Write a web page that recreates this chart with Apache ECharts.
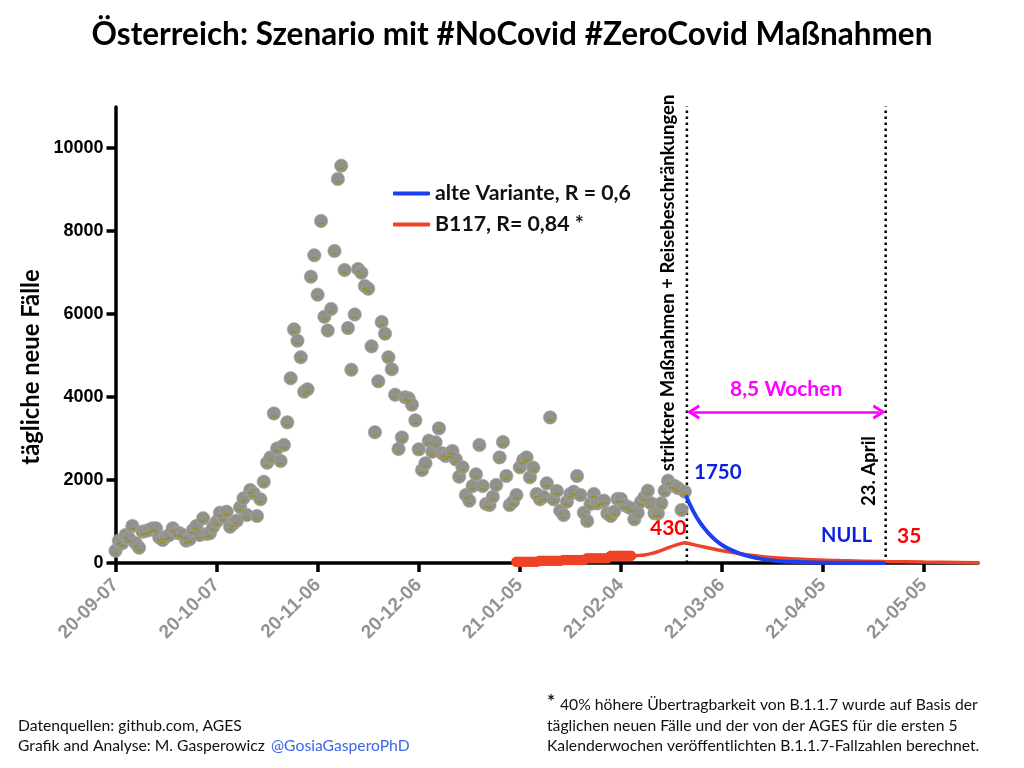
<!DOCTYPE html>
<html>
<head>
<meta charset="utf-8">
<script src="https://cdn.jsdelivr.net/npm/echarts@6/dist/echarts.min.js"></script>
<style>html,body{margin:0;padding:0;background:#fff}#c{width:1024px;height:768px}</style>
</head>
<body>
<div id="c"></div>
<script>
// Daily new cases, one per day starting 2020-09-07
const dailyCases = [297,538,474,675,594,891,474,369,755,771,795,835,835,618,554,634,675,835,731,715,
675,538,570,795,891,675,1076,700,715,875,996,1212,1100,1237,875,955,1020,1341,1558,1156,
1758,1678,1132,1534,1959,2417,2545,3605,2762,2457,2843,3389,4450,5630,5357,4957,4128,4185,6900,7414,
6465,8241,5935,5600,6120,7518,9253,9573,7060,5660,4658,5990,7084,6995,6675,6610,5220,3150,4378,5807,
5525,4957,4667,4056,2746,3027,3991,3967,3814,3437,2738,2240,2401,2947,2682,2907,3244,2642,2578,2626,
2698,2497,2080,2305,1638,1502,1855,2136,2843,1855,1421,1397,1598,1879,2545,2915,2096,1397,1478,1638,
2305,2481,2545,2064,2297,1662,1534,1598,1919,3509,1534,1734,1261,1156,1478,1662,1718,2096,1638,1212,
1012,1421,1662,1437,1478,1502,1196,1132,1237,1542,1542,1397,1357,1317,1052,1212,1478,1582,1742,1437,
1196,1196,1437,1742,1983,1879,1855,1799,1277,1718];
// B.1.1.7 weekly case counts: five calendar weeks of daily markers
const b117WeekDays = [119,120,121,122,123,124,125,126,127,128,129,130,131,132,133,134,135,136,137,138,139,140,141,142,143,144,145,146,147,148,149,150,151,152,153];
const b117WeekCases = [31,31,31,31,31,31,31,55,55,55,55,55,55,55,72,72,72,72,72,72,72,113,113,113,113,113,113,113,176,176,176,176,176,176,176];
// Scenario curves
const b117RiseDays  = [153,156,159,163,166.5,169];
const b117RiseCases = [165,185,225,335,435,490];
const b117FallDays  = [169,172.5,178.5,184.5,190,197,205,215,228,240,256];
const b117FallCases = [490,425,320,235,175,122,85,58,35,22,8];
const alteDays  = [169.5,171.5,173.5,175.5,178,180.5,183.5,186.5,190,195,200,210,228];
const alteCases = [1590,1245,975,764,560,410,285,195,125,58,28,7,0];
// Guides
const measuresDay = 169.6, aprilDay = 228.6;
const guideTop = 11000, arrowLevel = 3640;
// Axes
const dateTickDays = [0,30,60,90,120,150,180,210,240];
const dateTickLabels = ['20-09-07','20-10-07','20-11-06','20-12-06','21-01-05','21-02-04','21-03-06','21-04-05','21-05-05'];
const yTicks = [0,2000,4000,6000,8000,10000];

const BLUE='#1c3ff0', RED='#ee4326', MAG='#ff00ff', LAT='Lato, "Noto Sans", sans-serif';
const chevron='path://M0,10 L5,0 L10,10 L8.2,11 L5,4.6 L1.8,11 Z';
const pts = dailyCases.map((v,i)=>[i,v]);
const txt=(x,y,t,fill,size)=>({type:'text',x,y,silent:true,
  style:{text:t,fill,font:`bold ${size}px ${LAT}`,textVerticalAlign:'middle'}});
const vtxt=(x,y,t,size)=>({type:'text',x,y,rotation:Math.PI/2,silent:true,
  style:{text:t,fill:'#000',font:`bold ${size}px ${LAT}`,textAlign:'center',textVerticalAlign:'middle'}});
const foot=(x,y,t,fill)=>({type:'text',x,y,silent:true,style:{text:t,fill:fill||'#111',font:`15.7px ${LAT}`,textVerticalAlign:'middle'}});
const redLine={type:'line',z:5,showSymbol:false,symbol:'none',smooth:0.5,clip:false,
  lineStyle:{color:RED,width:3.5,cap:'round'},itemStyle:{color:RED}};

const chart = echarts.init(document.getElementById('c'));
chart.setOption({
  animation:false,
  backgroundColor:'#fff',
  title:{text:'Österreich: Szenario mit #NoCovid #ZeroCovid Maßnahmen',left:'center',top:14,
    textStyle:{fontFamily:LAT,fontWeight:'bold',fontSize:31.5,color:'#000'}},
  grid:{left:115.5,right:46,top:107,bottom:205},
  legend:{orient:'vertical',left:388,top:178,icon:'roundRect',itemWidth:37,itemHeight:4,itemGap:10,
    data:['alte Variante, R = 0,6','B117, R= 0,84 *'],
    textStyle:{fontFamily:LAT,fontWeight:'bold',fontSize:21.3,color:'#111'}},
  xAxis:{type:'value',min:0,max:256,splitLine:{show:false},
    axisLine:{lineStyle:{color:'#000',width:3.5}},
    axisTick:{customValues:dateTickDays,length:9,lineStyle:{color:'#000',width:3.5}},
    axisLabel:{customValues:dateTickDays,rotate:45,margin:19,color:'#939393',fontFamily:'"Liberation Sans",Arial',fontWeight:'bold',fontSize:19,
      formatter:v=>dateTickLabels[dateTickDays.indexOf(v)]}},
  yAxis:{type:'value',min:0,max:10988,splitLine:{show:false},
    axisLine:{show:true,lineStyle:{color:'#000',width:3.5}},
    axisTick:{show:true,customValues:yTicks,length:9,lineStyle:{color:'#000',width:3.5}},
    axisLabel:{customValues:yTicks,margin:12,color:'#000',fontFamily:'"Liberation Sans",Arial',fontWeight:'bold',fontSize:18,
      formatter:v=>String(v)}},
  series:[
    {name:'measures',type:'line',clip:false,showSymbol:false,z:1,silent:true,
     data:[[measuresDay,0],[measuresDay,guideTop]],lineStyle:{color:'#000',width:2.5,type:[2.5,3.5]}},
    {name:'april',type:'line',clip:false,showSymbol:false,z:1,silent:true,
     data:[[aprilDay,0],[aprilDay,guideTop]],lineStyle:{color:'#000',width:2.5,type:[2.5,3.5]}},
    {name:'weeks',type:'line',showSymbol:false,z:2,silent:true,data:[],
     markLine:{silent:true,symbol:[chevron,chevron],symbolSize:[15,13],precision:1,
       lineStyle:{color:MAG,width:2.5,type:'solid'},itemStyle:{color:MAG},label:{show:false},
       data:[[{coord:[measuresDay+1.9,arrowLevel]},{coord:[aprilDay-1.9,arrowLevel]}]]}},
    {name:'daily',type:'scatter',z:3,silent:true,data:pts,symbol:'circle',symbolSize:13.5,
     itemStyle:{color:'#92928d',borderColor:'#aaaaa5',borderWidth:0.6,opacity:1}},
    {name:'dailyMark',type:'scatter',z:4,silent:true,data:pts,symbol:'rect',symbolSize:[5,1.6],symbolOffset:[0,2.8],
     itemStyle:{color:'#9a8e22',opacity:1}},
    {name:'b117Weeks',type:'scatter',z:5,silent:true,data:b117WeekDays.map((d,i)=>[d,b117WeekCases[i]]),symbol:'circle',symbolSize:10.5,
     itemStyle:{color:RED,opacity:1}},
    Object.assign({name:'b117Rise',data:b117RiseDays.map((d,i)=>[d,b117RiseCases[i]])},redLine),
    Object.assign({name:'B117, R= 0,84 *',data:b117FallDays.map((d,i)=>[d,b117FallCases[i]])},redLine),
    {name:'alte Variante, R = 0,6',type:'line',z:6,showSymbol:false,symbol:'none',smooth:0.5,clip:false,
     data:alteDays.map((d,i)=>[d,alteCases[i]]),
     lineStyle:{color:BLUE,width:4,cap:'round'},itemStyle:{color:BLUE}}
  ],
  graphic:[
    vtxt(668,283,'striktere Maßnahmen + Reisebeschränkungen',18.5),
    vtxt(869,471,'23. April',18.5),
    vtxt(31,367,'tägliche neue Fälle',23.8),
    txt(730,389,'8,5 Wochen',MAG,21),
    txt(694,472,'1750','#0a1fe6',20.5),
    txt(650,528,'430','#ff0000',21),
    txt(821,536,'NULL','#0a1fe6',20),
    txt(897,536,'35','#ff0000',21),
    foot(18,726,'Datenquellen: github.com, AGES'),
    foot(18,746,'Grafik and Analyse: M. Gasperowicz'),
    foot(271,746,'@GosiaGasperoPhD','#3b66e8'),
    txt(547,702,'*','#111',19),
    foot(560,705,'40% höhere Übertragbarkeit von B.1.1.7 wurde auf Basis der'),
    foot(547,726,'täglichen neuen Fälle und der von der AGES für die ersten 5'),
    foot(547,746,'Kalenderwochen veröffentlichten B.1.1.7-Fallzahlen berechnet.')
  ]
});
</script>
</body>
</html>
